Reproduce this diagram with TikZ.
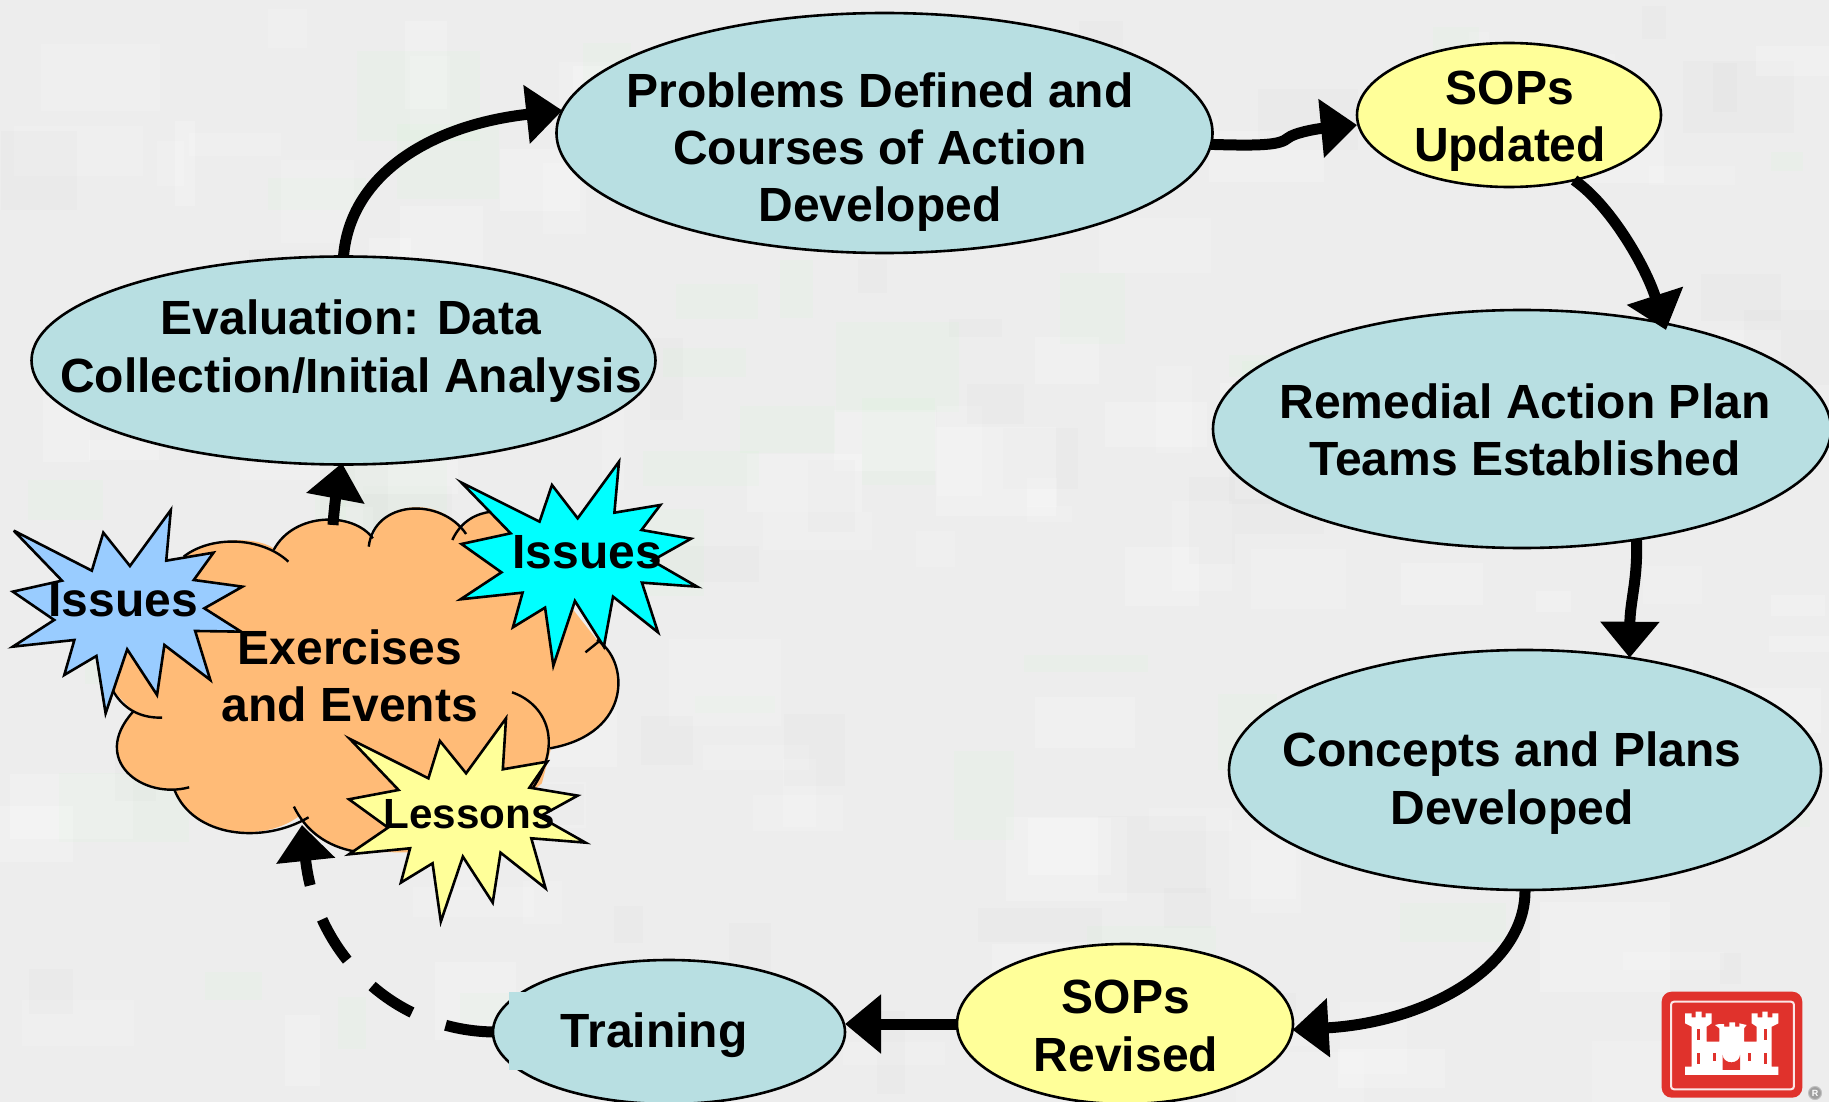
\documentclass[tikz,border=0pt]{standalone}
\usepackage{fontspec}
\setmainfont{Liberation Sans}
\usetikzlibrary{shapes.geometric,arrows.meta}
\definecolor{bgc}{HTML}{EDEDED}
\definecolor{tealc}{HTML}{B8DFE2}
\definecolor{yelc}{HTML}{FFFF99}
\definecolor{orc}{HTML}{FFBB77}
\definecolor{bluc}{HTML}{99CCFF}
\definecolor{cyac}{HTML}{00FFFF}
\definecolor{redc}{HTML}{E0322C}
\tikzset{
  oval/.style={ellipse,draw=black,line width=2.6pt,inner sep=0pt,outer sep=0pt,
    minimum width=#1},
  tealoval/.style={oval=#1,fill=tealc},
  yeloval/.style={oval=#1,fill=yelc},
  lab/.style={font=\fontsize{48}{57.3}\selectfont\bfseries,align=center,inner sep=0pt},
  conn/.style={line width=11pt,-{Triangle[length=36pt,width=57pt]}},
  starshape/.style={draw=black,line width=2.6pt,line join=miter,miter limit=6},
  cloudline/.style={draw=black,line width=2.4pt},
}
\begin{document}
\begin{tikzpicture}[x=1pt,y=-1pt]
\path[use as bounding box] (0,0) rectangle (1829,1102);
\clip (0,0) rectangle (1829,1102);
\fill[bgc] (0,0) rectangle (1829,1102);
% faint mottled background
\pgfmathsetseed{11}
\foreach \i in {1,...,190}{
  \pgfmathsetmacro\rx{random(0,1780)}
  \pgfmathsetmacro\ry{random(0,1060)}
  \pgfmathsetmacro\rw{random(20,130)}
  \pgfmathsetmacro\rh{random(15,90)}
  \pgfmathsetmacro\rk{random(0,3)}
  \ifnum\rk=0 \fill[white,opacity=.22] (\rx,\ry) rectangle ++(\rw,\rh);\fi
  \ifnum\rk=1 \fill[white,opacity=.14] (\rx,\ry) rectangle ++(\rw,\rh);\fi
  \ifnum\rk=2 \fill[black,opacity=.012] (\rx,\ry) rectangle ++(\rw,\rh);\fi
  \ifnum\rk=3 \fill[green!30!white,opacity=.06] (\rx,\ry) rectangle ++(\rw,\rh);\fi
}
% ovals
\node[tealoval=656pt,minimum height=240pt] (prob) at (884.5,133) {};
\node[yeloval=304pt,minimum height=144pt] (sopu) at (1509,115) {};
\node[tealoval=618pt,minimum height=238pt] (rem) at (1522,429) {};
\node[tealoval=592pt,minimum height=240pt] (con) at (1525,770) {};
\node[yeloval=336pt,minimum height=160pt] (sopr) at (1125,1024) {};
\node[tealoval=352pt,minimum height=144pt] (trn) at (669,1032) {};
\node[tealoval=624pt,minimum height=208pt] (eval) at (343.5,360.5) {};
\fill[tealc] (509,992) rectangle (535,1070);
% cloud
\begin{scope}[shift={(0,440)},x=0.4592pt,y=-0.3333pt]
\fill[orc] (600,330) .. controls (640,215) and (770,215) .. (812,295)
  .. controls (830,180) and (960,170) .. (1005,270)
  .. controls (1020,230) and (1050,215) .. (1080,215) -- (1300,600)
  .. controls (1370,650) and (1380,880) .. (1200,925)
  -- (1180,1030) -- (1000,1240) -- (770,1235)
  .. controls (720,1225) and (670,1180) .. (650,1130)
  .. controls (570,1210) and (420,1190) .. (380,1050)
  .. controls (300,1060) and (205,960) .. (290,815)
  -- (245,750) -- (300,500) -- (400,350)
  .. controls (460,285) and (570,290) .. (600,330);
\draw[cloudline] (596,330) .. controls (640,215) and (770,215) .. (812,295);
\draw[cloudline] (803,320) .. controls (815,180) and (960,170) .. (1015,282);
\draw[cloudline] (985,300) .. controls (1005,240) and (1040,220) .. (1070,215);
\draw[cloudline] (1275,637) -- (1310,598);
\draw[cloudline] (1300,600) .. controls (1370,660) and (1380,880) .. (1198,925);
\draw[cloudline] (1115,757) .. controls (1185,790) and (1230,900) .. (1160,1045);
\draw[cloudline] (640,1100) .. controls (665,1170) and (710,1220) .. (775,1235);
\draw[cloudline] (672,1132) .. controls (570,1215) and (420,1190) .. (380,1050);
\draw[cloudline] (412,1042) .. controls (310,1080) and (195,960) .. (290,815);
\draw[cloudline] (353,833) .. controls (300,835) and (265,800) .. (245,750);
\draw[cloudline] (400,350) .. controls (460,285) and (570,290) .. (628,365);
\end{scope}
% named ends
\coordinate (cloudtop) at (342,463);
\coordinate (cloudbase) at (333,525);
\coordinate (cloudin) at (302,825);
\coordinate (remin) at (1666,330);
\coordinate (sopuin) at (1357,125);
% connectors
\draw[conn] (eval.north) .. controls (350,175) and (430,125) .. (prob.176);
\draw[conn] (prob.-2) .. controls (1262,146) and (1280,145) .. (1288,138) .. controls (1294,133) and (1315,129) .. (sopuin);
\draw[conn] (sopu.-45) .. controls (1610,205) and (1645,265) .. (remin);
\draw[conn] (rem.-44) .. controls (1638,580) and (1630,600) .. (con.47.6);
\draw[conn] (con.south) .. controls (1526,965) and (1430,1022) .. (sopr.-2);
\draw[conn] (sopr.west) -- (sopr.west -| trn.east);
\draw[conn,dash pattern=on 48pt off 36pt] (trn.west) .. controls (390,1030) and (315,950) .. (cloudin);
\draw[conn] (cloudbase) .. controls (334,510) and (336,495) .. (cloudtop);
% stars
\begin{scope}[shift={(0,440)},x=0.4592pt,y=-0.3333pt]
\draw[starshape,fill=bluc] (30,272)--(200,392)--(225,278)--(283,378)--(372,210)--(362,362)--(465,338)--(422,420)--(528,440)--(445,505)--(525,575)--(425,573)--(458,720)--(358,615)--(342,765)--(277,628)--(230,820)--(210,648)--(140,705)--(162,600)--(28,620)--(118,540)--(28,455)--(135,422)--cycle;
\draw[starshape,fill=cyac] (1005,128)--(1175,245)--(1202,135)--(1258,235)--(1348,65)--(1338,218)--(1438,195)--(1397,270)--(1505,296)--(1420,362)--(1518,440)--(1398,428)--(1433,577)--(1335,470)--(1315,620)--(1252,483)--(1205,677)--(1187,503)--(1117,562)--(1138,458)--(1003,478)--(1092,397)--(1005,312)--(1112,280)--cycle;
\draw[starshape,fill=yelc] (762,897)--(933,1015)--(958,903)--(1015,1000)--(1102,835)--(1095,988)--(1192,965)--(1153,1043)--(1258,1067)--(1175,1130)--(1275,1208)--(1157,1195)--(1188,1345)--(1090,1238)--(1073,1388)--(1008,1250)--(960,1445)--(942,1270)--(873,1328)--(893,1225)--(760,1243)--(845,1163)--(760,1078)--(868,1050)--cycle;
\end{scope}
% labels
\node[lab] (tprob) at (880,152) {Problems Defined and\\Courses of Action\\Developed};
\node[lab] (tsopu) at (1510,121) {SOPs\\Updated};
\node[lab] (teval) at (351,351) {Evaluation: Data\\Collection/Initial Analysis};
\node[lab] (trem) at (1525,430) {Remedial Action Plan\\Teams Established};
\node[lab] (tcon) at (1512,783) {Concepts and Plans\\Developed};
\node[lab] (tsopr) at (1126,1026) {SOPs\\Revised};
\node[lab] (ttrn) at (654,1035) {Training};
\node[lab] (tex) at (350,676) {Exercises\\and Events};
\node[lab] (tis1) at (123,600) {Issues};
\node[lab] (tis2) at (587,552) {Issues};
\node[lab,font=\fontsize{42.2}{50}\selectfont\bfseries] (tles) at (469,814) {Lessons};
% logo
\begin{scope}[shift={(1600,960)},x=0.3333pt,y=-0.3333pt]
\fill[redc,rounded corners=10pt] (185,95) rectangle (607,413);
\draw[white!88!redc,line width=2pt,rounded corners=3pt] (213,125) rectangle (582,388);
\fill[white] (255,345)--(255,320)--(275,320)--(275,200)--(255,190)--(255,160)--(275,160)--(275,172)--(287,172)--(287,155)--(305,155)--(305,172)--(317,172)--(317,160)--(335,160)--(335,190)--(320,200)--(320,245)--(358,245)--(358,205)--(345,195)--(358,192)--(372,192)--(372,200)--(388,200)--(388,187)--(405,187)--(405,200)--(418,200)--(418,190)--(440,195)--(432,205)--(432,245)--(470,245)--(470,200)--(455,190)--(455,160)--(473,160)--(473,172)--(487,172)--(487,155)--(503,155)--(503,172)--(517,172)--(517,160)--(535,160)--(535,190)--(515,200)--(515,320)--(535,320)--(535,345)--cycle;
\fill[redc] (368,330) -- (368,285) arc (180:0:26 and 22) -- (420,330) -- cycle;
\foreach \wx/\wy in {292/208,292/280,492/208,492/280}{\fill[redc] (\wx,\wy) rectangle ++(9,32);}
\foreach \wx/\wy in {340/280,445/280}{\fill[redc] (\wx,\wy) rectangle ++(9,24);}
\end{scope}
\node[circle,fill=gray!75,draw=gray!50,line width=1pt,minimum size=13pt,inner sep=0pt,text=white,font=\fontsize{9}{9}\selectfont\bfseries] (regmark) at (1815,1093) {R};
\end{tikzpicture}
\end{document}
